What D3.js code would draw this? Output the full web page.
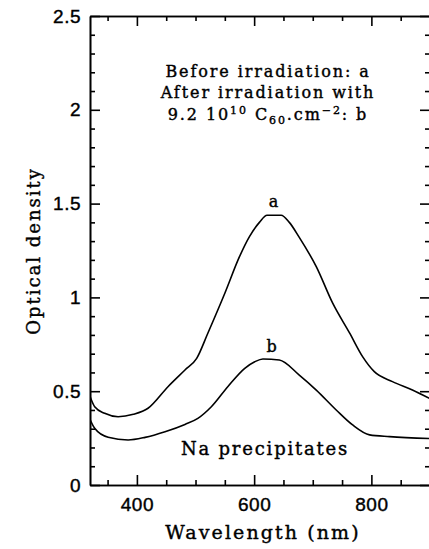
<!DOCTYPE html>
<html>
<head>
<meta charset="utf-8">
<script src="https://cdn.jsdelivr.net/npm/d3@7"></script>
<style>
  body { margin: 0; background: #fff; }
  svg { display: block; font-family: "DejaVu Serif", serif; }
  svg text { stroke: #000; stroke-width: 0.4px; }
</style>
</head>
<body>
<svg id="plot1" width="429" height="549"></svg>
<script>
// curve a: before irradiation
var wavelengthA = [318, 328, 345, 368, 394, 419, 453, 482, 502, 521, 550, 575, 592, 609, 622, 646, 660, 677, 706, 734, 763, 785, 805, 836, 870, 900];
var densityA    = [0.49, 0.417, 0.382, 0.364, 0.377, 0.409, 0.524, 0.613, 0.675, 0.809, 1.022, 1.217, 1.324, 1.40, 1.438, 1.438, 1.40, 1.32, 1.164, 0.969, 0.809, 0.684, 0.604, 0.551, 0.506, 0.46];
// curve b: after irradiation
var wavelengthB = [318, 328, 351, 385, 414, 448, 482, 504, 527, 555, 584, 601, 615, 643, 677, 706, 740, 768, 797, 831, 900];
var densityB    = [0.364, 0.302, 0.254, 0.240, 0.254, 0.284, 0.323, 0.355, 0.417, 0.524, 0.622, 0.657, 0.672, 0.666, 0.586, 0.506, 0.400, 0.320, 0.267, 0.258, 0.248];

var xMajor = [400, 600, 800];
var xMinor = [350, 450, 500, 550, 650, 700, 750, 850];
var yMajor = [0, 0.5, 1, 1.5, 2, 2.5];
var yLabels = ["0", "0.5", "1", "1.5", "2", "2.5"];

function makeVis(){
    var svg = d3.select("#plot1");
    var container = svg.append("g");

    var left = 90, right = 430, top = 16, bottom = 485;

    var xScale = d3.scaleLinear().domain([320, 900]).range([left, right]);
    var yScale = d3.scaleLinear().domain([0, 2.5]).range([bottom, top]);

    var yMinor = d3.range(0, 2.51, 0.1).filter(function(v){
        return Math.abs(v*2 - Math.round(v*2)) > 1e-6;
    });

    function style(g){
        g.selectAll("path, line").attr("stroke", "#000").attr("stroke-width", 1.6);
        g.selectAll("text").attr("fill", "#000").attr("font-size", "19px").attr("letter-spacing", "0.5px");
    }

    // bottom
    container.append("g")
        .attr("transform", "translate(0," + bottom + ")")
        .call(d3.axisBottom(xScale).tickValues(xMajor).tickSize(-10).tickSizeOuter(0).tickPadding(13))
        .call(style);
    container.append("g")
        .attr("transform", "translate(0," + bottom + ")")
        .call(d3.axisBottom(xScale).tickValues(xMinor).tickSize(-5).tickSizeOuter(0).tickFormat(""))
        .call(style);
    // top
    container.append("g")
        .attr("transform", "translate(0," + top + ")")
        .call(d3.axisTop(xScale).tickValues(xMajor).tickSize(-10).tickSizeOuter(0).tickFormat(""))
        .call(style);
    container.append("g")
        .attr("transform", "translate(0," + top + ")")
        .call(d3.axisTop(xScale).tickValues(xMinor).tickSize(-5).tickSizeOuter(0).tickFormat(""))
        .call(style);
    // left
    container.append("g")
        .attr("transform", "translate(" + left + ",0)")
        .call(d3.axisLeft(yScale).tickValues(yMajor).tickSize(-10).tickSizeOuter(0).tickPadding(9)
            .tickFormat(function(d, i){ return yLabels[i]; }))
        .call(style);
    container.append("g")
        .attr("transform", "translate(" + left + ",0)")
        .call(d3.axisLeft(yScale).tickValues(yMinor).tickSize(-5).tickSizeOuter(0).tickFormat(""))
        .call(style);
    // right
    container.append("g")
        .attr("transform", "translate(" + right + ",0)")
        .call(d3.axisRight(yScale).tickValues(yMajor).tickSize(-10).tickSizeOuter(0).tickFormat(""))
        .call(style);
    container.append("g")
        .attr("transform", "translate(" + right + ",0)")
        .call(d3.axisRight(yScale).tickValues(yMinor).tickSize(-5).tickSizeOuter(0).tickFormat(""))
        .call(style);

    var line = d3.line()
        .x(function(d) { return xScale(d[0]); })
        .y(function(d) { return yScale(d[1]); })
        .curve(d3.curveMonotoneX);

    svg.append("clipPath").attr("id", "clip")
        .append("rect").attr("x", left).attr("y", top)
        .attr("width", right - left).attr("height", bottom - top);

    [[wavelengthA, densityA], [wavelengthB, densityB]].forEach(function(s){
        container.append("path")
            .datum(d3.zip(s[0], s[1]))
            .attr("clip-path", "url(#clip)")
            .attr("fill", "none")
            .attr("stroke", "#000")
            .attr("stroke-width", 1.6)
            .attr("stroke-linejoin", "round")
            .attr("d", line);
    });

    // annotations
    var ann = container.append("g")
        .attr("fill", "#000")
        .attr("font-size", "16px")
        .attr("letter-spacing", "1.9px")
        .attr("text-anchor", "middle");

    ann.append("text").attr("x", 268).attr("y", 77).text("Before irradiation: a");
    ann.append("text").attr("x", 268).attr("y", 98).text("After irradiation with");
    var t = ann.append("text").attr("x", 268).attr("y", 120);
    t.append("tspan").text("9.2 10");
    t.append("tspan").attr("font-size", "11px").attr("dy", -6).text("10");
    t.append("tspan").attr("dy", 6).text(" C");
    t.append("tspan").attr("font-size", "11px").attr("dy", 4).text("60");
    t.append("tspan").attr("dy", -4).text(".cm");
    t.append("tspan").attr("font-size", "11px").attr("dy", -6).text("\u22122");
    t.append("tspan").attr("dy", 6).text(": b");

    ann.append("text").attr("x", xScale(633)).attr("y", 207).attr("letter-spacing", 0).text("a");
    ann.append("text").attr("x", xScale(630)).attr("y", 352).attr("letter-spacing", 0).text("b");
    ann.append("text").attr("x", 265).attr("y", 455)
        .attr("font-size", "18px").attr("letter-spacing", "1.8px").text("Na precipitates");

    // axis titles
    container.append("text")
        .attr("fill", "#000")
        .attr("font-size", "19px")
        .attr("letter-spacing", "2.1px")
        .attr("text-anchor", "middle")
        .attr("x", 263)
        .attr("y", 539)
        .text("Wavelength (nm)");

    container.append("text")
        .attr("fill", "#000")
        .attr("font-size", "18px")
        .attr("letter-spacing", "2px")
        .attr("text-anchor", "middle")
        .attr("transform", "translate(40,251) rotate(-90)")
        .text("Optical density");
}

makeVis();
</script>
</body>
</html>
